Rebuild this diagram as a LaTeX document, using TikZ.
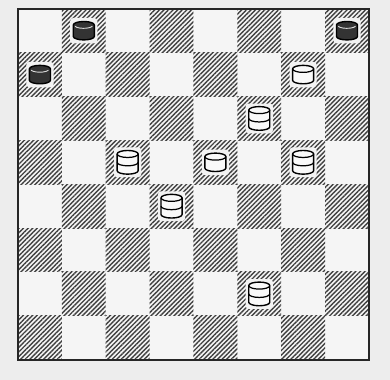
\documentclass[tikz,border=0pt]{standalone}
\usepackage{tikz}
\usetikzlibrary{patterns.meta}
\tikzset{
  darksq/.style   = {pattern={Lines[angle=45,distance=2.1pt,line width=0.9pt]},pattern color=black!75},
  boardline/.style= {line width=1.3pt,black!85},
  halo/.style     = {fill=black!5,rounded corners=2pt},
  wpiece/.style   = {fill=white!95!gray,draw=black,line width=0.9pt},
  bpiece/.style   = {fill=black!80,draw=black,line width=0.9pt},
  wman/.pic = {
    \fill[halo] (-0.31,-0.29) rectangle (0.31,0.29);
    \filldraw[wpiece] (-0.24,0.13) -- (-0.24,-0.13)
      arc[start angle=180,end angle=360,x radius=0.24,y radius=0.08]
      -- (0.24,0.13) arc[start angle=0,end angle=180,x radius=0.24,y radius=0.08] -- cycle;
    \draw[line width=0.8pt] (-0.24,0.13) arc[start angle=180,end angle=360,x radius=0.24,y radius=0.08];
  },
  wking/.pic = {
    \fill[halo] (-0.31,-0.34) rectangle (0.31,0.34);
    \filldraw[wpiece] (-0.24,0.19) -- (-0.24,-0.19)
      arc[start angle=180,end angle=360,x radius=0.24,y radius=0.08]
      -- (0.24,0.19) arc[start angle=0,end angle=180,x radius=0.24,y radius=0.08] -- cycle;
    \draw[line width=0.8pt] (-0.24,0.19) arc[start angle=180,end angle=360,x radius=0.24,y radius=0.08];
    \draw[line width=0.8pt] (-0.24,0) arc[start angle=180,end angle=360,x radius=0.24,y radius=0.08];
  },
  bman/.pic = {
    \fill[halo] (-0.31,-0.29) rectangle (0.31,0.29);
    \filldraw[bpiece] (-0.24,0.13) -- (-0.24,-0.13)
      arc[start angle=180,end angle=360,x radius=0.24,y radius=0.08]
      -- (0.24,0.13) arc[start angle=0,end angle=180,x radius=0.24,y radius=0.08] -- cycle;
    \draw[white!85!black,line width=0.6pt] (-0.2,0.1) arc[start angle=200,end angle=340,x radius=0.21,y radius=0.07];
  }
}

\begin{document}
\begin{tikzpicture}
  % paper
  \fill[black!7] (-0.41,-0.46) rectangle (8.48,8.2);
  \useasboundingbox (-0.41,-0.46) rectangle (8.48,8.2);
  \fill[black!4] (0,0) rectangle (8,8);
  % dark squares
  \foreach \i in {0,...,7}{
    \foreach \j in {0,...,7}{
      \pgfmathtruncatemacro\parity{mod(\i+\j,2)}
      \ifnum\parity=0 \fill[darksq] (\i,\j) rectangle ++(1,1); \fi
    }
  }
  \draw[boardline] (0,0) rectangle (8,8);
  % black men
  \foreach \x/\y in {1.5/7.5, 7.5/7.5, 0.5/6.5}
    \pic at (\x,\y) {bman};
  % white men
  \foreach \x/\y in {6.5/6.5, 4.5/4.5}
    \pic at (\x,\y) {wman};
  % white kings
  \foreach \x/\y in {5.5/5.5, 2.5/4.5, 6.5/4.5, 3.5/3.5, 5.5/1.5}
    \pic at (\x,\y) {wking};
\end{tikzpicture}
\end{document}
